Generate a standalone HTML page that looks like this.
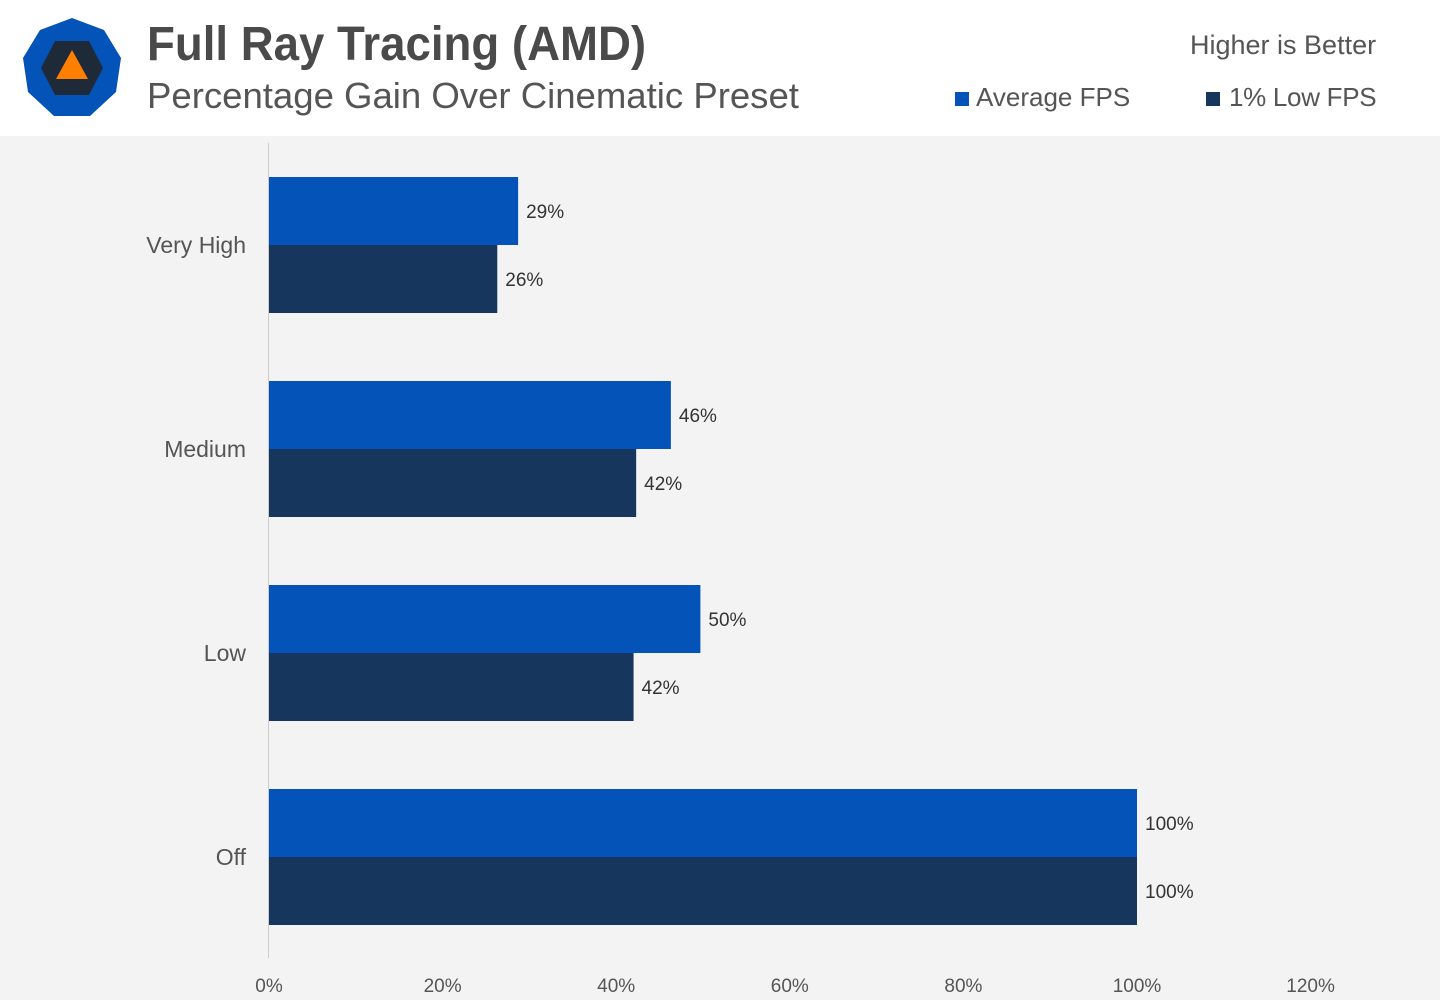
<!DOCTYPE html>
<html><head><meta charset="utf-8"><style>
body{margin:0;width:1440px;height:1000px;background:#f3f3f3;font-family:"Liberation Sans",sans-serif;overflow:hidden;position:relative}
#hdr{position:absolute;left:0;top:0;width:1440px;height:136px;background:#fff}
.t{position:absolute;white-space:nowrap}
</style></head><body>
<div id="hdr">
<svg width="140" height="136" style="position:absolute;left:0;top:0">
<polygon points="72,18 104,30 121,58 116,92 90,116 54,116 28,92 23,58 40,30" fill="#0353b8"/>
<polygon points="55,41 89,41 103,68 89,95 55,95 41,68" fill="#1f2a38"/>
<polygon points="72,50 88,79 56,79" fill="#ff8000"/>
</svg>
<div class="t" style="left:147px;top:17px;font-size:48px;font-weight:bold;color:#4a4a4a;transform:scaleX(0.95);transform-origin:0 0">Full Ray Tracing (AMD)</div>
<div class="t" style="left:147px;top:75px;font-size:36px;color:#555;transform:scaleX(1.015);transform-origin:0 0">Percentage Gain Over Cinematic Preset</div>
<div class="t" style="left:1190px;top:30px;font-size:27px;color:#555">Higher is Better</div>
<div class="t" style="left:955px;top:82px;font-size:26px;color:#555"><span style="display:inline-block;width:14px;height:14px;background:#0353b8;margin-right:7px"></span>Average FPS</div>
<div class="t" style="left:1206px;top:82px;font-size:26px;color:#555;letter-spacing:-0.3px"><span style="display:inline-block;width:14px;height:14px;background:#16365d;margin-right:9px"></span>1% Low FPS</div>
</div>
<svg id="chart" width="1440" height="1000" style="position:absolute;left:0;top:0"></svg>
<script>
const categories=["Very High","Medium","Low","Off"];
const avgFps=[28.7,46.3,49.7,100];
const lowFps=[26.3,42.3,42,100];
const avgLabels=["29%","46%","50%","100%"];
const lowLabels=["26%","42%","42%","100%"];
const ticks=[0,20,40,60,80,100,120];
const NS="http://www.w3.org/2000/svg";
const svg=document.getElementById('chart');
const x=v=>269+v*8.68;
const yc=i=>177+i*204;
function mk(tag,attrs,txt){const e=document.createElementNS(NS,tag);for(const k in attrs)e.setAttribute(k,attrs[k]);if(txt!==undefined)e.textContent=txt;svg.appendChild(e);return e;}
const ax=mk('line',{x1:268.5,x2:268.5,y1:143,y2:958,stroke:'#ccc','stroke-width':1});


ticks.forEach(t=>{const e=mk('text',{x:x(t),y:992,'text-anchor':'middle','font-size':19,fill:'#555','font-family':'Liberation Sans'},t+'%');

});
categories.forEach((c,i)=>{
const y=yc(i);
const l=mk('text',{x:246,y:y+76,'text-anchor':'end','font-size':23,fill:'#555','font-family':'Liberation Sans'},c);


const b1=mk('rect',{x:269,y:y,width:x(avgFps[i])-269,height:68,fill:'#0353b8'});


const b2=mk('rect',{x:269,y:y+68,width:x(lowFps[i])-269,height:68,fill:'#16365d'});


const v1=mk('text',{x:x(avgFps[i])+8,y:y+41,'font-size':19,fill:'#333','font-family':'Liberation Sans'},avgLabels[i]);


const v2=mk('text',{x:x(lowFps[i])+8,y:y+109,'font-size':19,fill:'#333','font-family':'Liberation Sans'},lowLabels[i]);


});
</script>
</body></html>
